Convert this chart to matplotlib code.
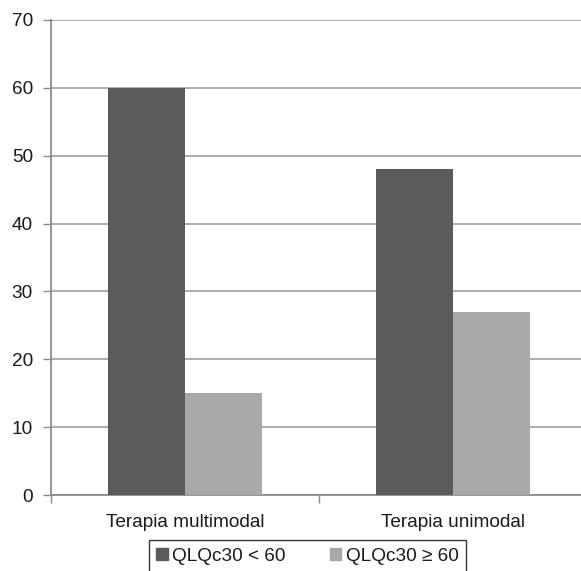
import matplotlib.pyplot as plt
from matplotlib.patches import Patch
import numpy as np

plt.rcParams["font.family"] = ["Liberation Sans", "DejaVu Sans"]

categories = ["Terapia multimodal", "Terapia unimodal"]
series_names = ["QLQc30 < 60", "QLQc30 \u2265 60"]
low_qol = [60, 48]
high_qol = [15, 27]
colors = ["#5b5b5c", "#a9a9ab"]

fig = plt.figure(figsize=(5.81, 5.71), dpi=100)
# the original plot area runs a little past the right edge of the image
ax = fig.add_axes([51 / 581, 1 - 495 / 571, 536 / 581, 475 / 571])

x = np.arange(len(categories))
w = 0.287
ax.bar(x - w / 2, low_qol, w, color=colors[0], zorder=3)
ax.bar(x + w / 2, high_qol, w, color=colors[1], zorder=3)

ax.set_xlim(-0.5, len(categories) - 0.5)
ax.set_ylim(0, 70)
ax.set_yticks(range(0, 71, 10))
ax.yaxis.grid(True, color="#a6a6a6", linewidth=1.3, zorder=0)

ax.set_xticks(x)
ax.set_xticklabels(categories)
ax.set_xticks([-0.5, 0.5, 1.5], minor=True)
ax.tick_params(axis="x", which="major", length=0, pad=14, labelsize=13.7, labelcolor="#1a1a1a")
ax.tick_params(axis="x", which="minor", length=6, color="#8c8c8c", width=1)
ax.tick_params(axis="y", length=6, color="#8c8c8c", width=1, pad=7, labelsize=13.7, labelcolor="#1a1a1a")

for side in ["top", "right"]:
    ax.spines[side].set_visible(False)
for side in ["left", "bottom"]:
    ax.spines[side].set_color("#8c8c8c")
    ax.spines[side].set_linewidth(1.3)

handles = [Patch(color=c, label=n) for c, n in zip(colors, series_names)]
leg = fig.legend(
    handles=handles,
    loc="upper center",
    bbox_to_anchor=(307.5 / 581, 1 - 540 / 571),
    borderaxespad=0,
    ncol=2,
    fontsize=13.7,
    frameon=True,
    fancybox=False,
    handlelength=0.6,
    handleheight=0.6,
    handletextpad=0.25,
    columnspacing=2.3,
    borderpad=0.4,
)
for t in leg.get_texts():
    t.set_color("#1a1a1a")
leg.get_frame().set_edgecolor("black")
leg.get_frame().set_linewidth(1)

fig.savefig("out.png", dpi=100)
